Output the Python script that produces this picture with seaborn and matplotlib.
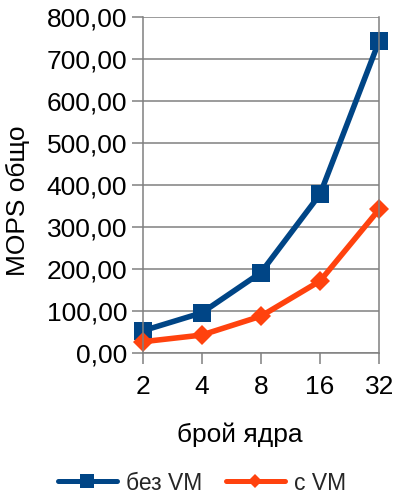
import matplotlib
matplotlib.use("Agg")
import matplotlib.pyplot as plt
import matplotlib.ticker as mticker
import seaborn as sns
import pandas as pd

# Core counts and throughput (MOPS total) for each configuration
cores = ["2", "4", "8", "16", "32"]
without_vm = [52, 95, 191, 378, 744]
with_vm = [26, 42, 87, 171, 342]
series_names = ["без VM", "с VM"]
y_ticks = [0, 100, 200, 300, 400, 500, 600, 700, 800]

df = pd.DataFrame({
    "cores": cores * 2,
    "pos": list(range(len(cores))) * 2,
    "mops": without_vm + with_vm,
    "series": [series_names[0]] * len(cores) + [series_names[1]] * len(cores),
})

sns.set_theme(style="white")
plt.rcParams["font.family"] = ["Liberation Sans", "DejaVu Sans"]

fig = plt.figure(figsize=(3.95, 4.96), dpi=100)
ax = fig.add_axes([0.361, 0.289, 0.599, 0.676])

palette = {series_names[0]: "#004586", series_names[1]: "#ff420e"}
markers = {series_names[0]: "s", series_names[1]: "D"}
sizes = {series_names[0]: 13, series_names[1]: 10}
legend_sizes = [9.5, 7.5]

for name in series_names:
    sub = df[df["series"] == name]
    sns.lineplot(data=sub, x="pos", y="mops", ax=ax, color=palette[name],
                 marker=markers[name], markersize=sizes[name],
                 markeredgewidth=0, linewidth=4, label=name, clip_on=False)

ax.set_xlim(0, len(cores) - 1)
ax.set_ylim(0, 800)
ax.set_xticks(range(len(cores)))
ax.set_xticklabels(cores)
ax.set_yticks(y_ticks)
ax.yaxis.set_major_formatter(mticker.FuncFormatter(lambda v, p: f"{v:.2f}".replace(".", ",")))

ax.grid(axis="y", color="#808080", linewidth=1.1)
ax.set_axisbelow(True)
for side in ["left", "bottom", "right"]:
    ax.spines[side].set_visible(True)
    ax.spines[side].set_color("#808080")
    ax.spines[side].set_linewidth(1.1)
ax.spines["top"].set_visible(False)

ax.tick_params(axis="both", which="both", direction="out", length=8, width=1.1,
               color="#808080", labelsize=19, labelcolor="black", pad=6)
ax.tick_params(axis="x", bottom=True, pad=8)
ax.tick_params(axis="y", left=True, pad=3)

ax.set_xlabel("брой ядра", fontsize=19, color="black")
ax.set_ylabel("MOPS общо", fontsize=19, color="black")
ax.xaxis.set_label_coords((240 - 142.7) / (379.3 - 142.7), -(435 - 352.7) / 335.4, transform=ax.transAxes)
ax.yaxis.set_label_coords(-(142.7 - 18) / (379.3 - 142.7), (352.7 - 201) / 335.4, transform=ax.transAxes)
ax.xaxis.label.set_va("center")
ax.yaxis.label.set_va("center")

leg = ax.legend(loc="center", bbox_to_anchor=(202 / 395, 1 - 483 / 496),
                bbox_transform=fig.transFigure, ncol=2, frameon=False,
                fontsize=16.5, handlelength=2.6, handletextpad=0.4, columnspacing=1.0)
for line, ms in zip(leg.get_lines(), legend_sizes):
    line.set_linewidth(3.6)
    line.set_markersize(ms)

fig.savefig("out.png", dpi=100)
